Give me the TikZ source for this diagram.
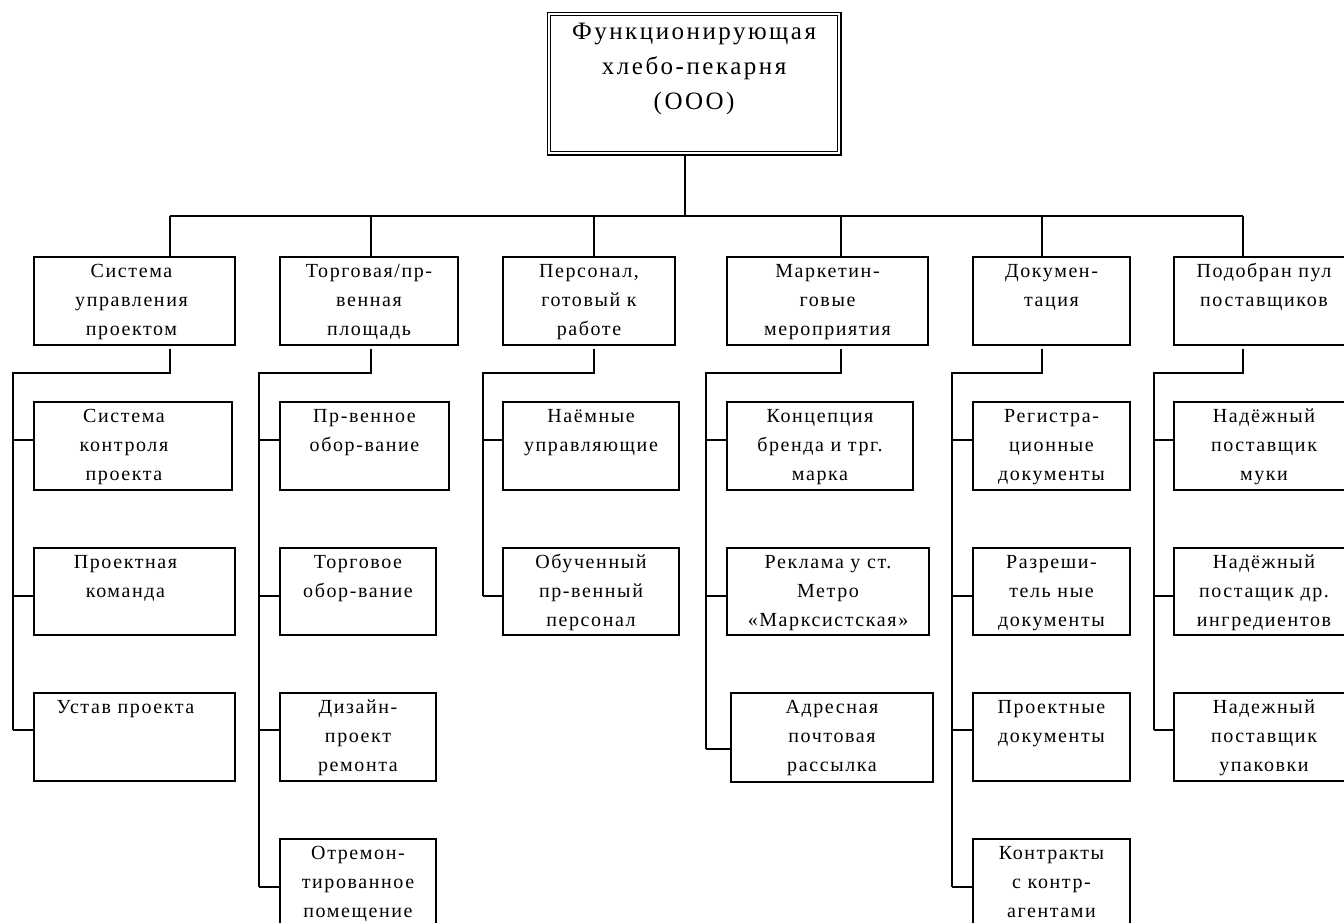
\documentclass[tikz,border=0pt]{standalone}
\usepackage{fontspec}
\setmainfont{Liberation Serif}
\usetikzlibrary{calc}
\tikzset{
  ln/.style={line width=1.5pt},
  box/.style={draw, line width=1.5pt, anchor=north west, inner sep=0pt, outer sep=0pt},
  txt/.style={anchor=north, align=center, inner sep=0pt,
    font=\fontsize{20}{29}\selectfont\addfontfeature{LetterSpace=8}},
  roottxt/.style={anchor=north, align=center, inner sep=0pt,
    font=\fontsize{25}{35}\selectfont\addfontfeature{LetterSpace=10}},
}
% name, x1, y1, x2, y2, attach y, text xshift, text
\newcommand{\mybox}[8]{%
  \node[box, minimum width={#4-#2}, minimum height={#5-#3}] (#1) at (#2,#3) {};
  \node[txt] (#1t) at ([xshift=#7pt,yshift=-5.5pt]#1.north) {\rule{0pt}{15pt}#8};
  \coordinate (#1p) at ($(#1.north west)+(0,#6-#3)$);}
\begin{document}
\begin{tikzpicture}[x=1pt,y=-1pt]
\useasboundingbox (0,0) rectangle (1344,923);
\fill[white] (0,0) rectangle (1344,923);

% root
\node[draw, double, double distance=2pt, line width=1.2pt, minimum width=290.6,
      minimum height=139.6, anchor=north west, inner sep=0pt] (root) at (548.2,13.2) {};
\node[roottxt] (roott) at ([yshift=-6.8pt]root.north)
  {\rule{0pt}{19pt}Функционирующая\\хлебо-пекарня\\(ООО)};

% level 1
\mybox{A}{34}{257}{235}{345}{0}{-3}{Система\\управления\\проектом}
\mybox{B}{280}{257}{458}{345}{0}{0}{Торговая/пр-\\венная\\площадь}
\mybox{C}{503}{257}{675}{345}{0}{0}{Персонал,\\готовый к\\работе}
\mybox{D}{727}{257}{928}{345}{0}{0}{Маркетин-\\говые\\мероприятия}
\mybox{E}{973}{257}{1130}{345}{0}{0}{Докумен-\\тация}
\mybox{F}{1174}{257}{1354}{345}{0}{0}{Подобран пул\\поставщиков}

% level 2
\mybox{a1}{34}{402}{232}{490}{440}{-9}{Система\\контроля\\проекта}
\mybox{a2}{34}{548}{235}{635}{596}{-9}{Проектная\\команда}
\mybox{a3}{34}{693}{235}{781}{730}{-9}{Устав проекта}

\mybox{b1}{280}{402}{449}{490}{440}{0}{Пр-венное\\обор-вание}
\mybox{b2}{280}{548}{436}{635}{596}{0}{Торговое\\обор-вание}
\mybox{b3}{280}{693}{436}{781}{730}{0}{Дизайн-\\проект\\ремонта}
\mybox{b4}{280}{839}{436}{930}{887}{0}{Отремон-\\тированное\\помещение}

\mybox{c1}{503}{402}{679}{490}{440}{0}{Наёмные\\управляющие}
\mybox{c2}{503}{548}{679}{635}{596}{0}{Обученный\\пр-венный\\персонал}

\mybox{d1}{727}{402}{913}{490}{440}{0}{Концепция\\бренда и трг.\\марка}
\mybox{d2}{727}{548}{929}{635}{596}{0}{Реклама у ст.\\Метро\\«Марксистская»}
\mybox{d3}{731}{693}{933}{782}{749}{0}{Адресная\\почтовая\\рассылка}

\mybox{e1}{973}{402}{1130}{490}{440}{0}{Регистра-\\ционные\\документы}
\mybox{e2}{973}{548}{1130}{635}{596}{0}{Разреши-\\тель ные\\документы}
\mybox{e3}{973}{693}{1130}{781}{730}{0}{Проектные\\документы}
\mybox{e4}{973}{839}{1130}{930}{887}{0}{Контракты\\с контр-\\агентами}

\mybox{f1}{1174}{402}{1354}{490}{440}{0}{Надёжный\\поставщик\\муки}
\mybox{f2}{1174}{548}{1354}{635}{596}{0}{Надёжный\\постащик др.\\ингредиентов}
\mybox{f3}{1174}{693}{1354}{781}{730}{0}{Надежный\\поставщик\\упаковки}

% bus coordinates
\coordinate (bR) at (685,216);
\coordinate (bA) at (170,216);
\coordinate (bB) at (371,216);
\coordinate (bC) at (594,216);
\coordinate (bD) at (841,216);
\coordinate (bE) at (1042,216);
\coordinate (bF) at (1243,216);

\draw[ln] (root.south -| bR) -- (bR);
\draw[ln] (bA) -- (bF);
\foreach \c in {A,B,C,D,E,F}{
  \draw[ln] (b\c) -- (b\c |- \c.north);
}

% level-2 junctions
\coordinate (jA) at (170,373);  \coordinate (vA) at (13,373);
\coordinate (jB) at (371,373);  \coordinate (vB) at (259,373);
\coordinate (jC) at (594,373);  \coordinate (vC) at (483,373);
\coordinate (jD) at (841,373);  \coordinate (vD) at (706,373);
\coordinate (jE) at (1042,373); \coordinate (vE) at (952,373);
\coordinate (jF) at (1243,373); \coordinate (vF) at (1154,373);

\draw[ln, shorten <=4pt] (A.south -| jA) -- (jA) -- (vA) -- (vA |- a3p);
\draw[ln, shorten <=4pt] (B.south -| jB) -- (jB) -- (vB) -- (vB |- b4p);
\draw[ln, shorten <=4pt] (C.south -| jC) -- (jC) -- (vC) -- (vC |- c2p);
\draw[ln, shorten <=4pt] (D.south -| jD) -- (jD) -- (vD) -- (vD |- d3p);
\draw[ln, shorten <=4pt] (E.south -| jE) -- (jE) -- (vE) -- (vE |- e4p);
\draw[ln, shorten <=4pt] (F.south -| jF) -- (jF) -- (vF) -- (vF |- f3p);

\foreach \n in {a1,a2,a3}{\draw[ln] (vA |- \n p) -- (\n p);}
\foreach \n in {b1,b2,b3,b4}{\draw[ln] (vB |- \n p) -- (\n p);}
\foreach \n in {c1,c2}{\draw[ln] (vC |- \n p) -- (\n p);}
\foreach \n in {d1,d2,d3}{\draw[ln] (vD |- \n p) -- (\n p);}
\foreach \n in {e1,e2,e3,e4}{\draw[ln] (vE |- \n p) -- (\n p);}
\foreach \n in {f1,f2,f3}{\draw[ln] (vF |- \n p) -- (\n p);}
\end{tikzpicture}
\end{document}
